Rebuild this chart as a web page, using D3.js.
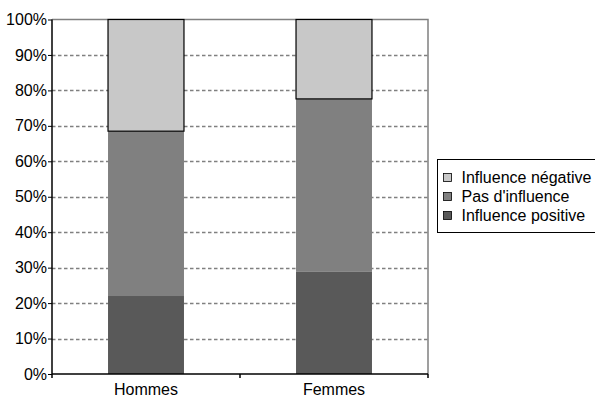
<!DOCTYPE html>
<html>
<head>
<meta charset="utf-8">
<script src="https://cdn.jsdelivr.net/npm/d3@7"></script>
<style>
  html, body { margin: 0; padding: 0; background: #fff; }
  svg { display: block; font-family: "Liberation Sans", Arial, sans-serif; }
</style>
</head>
<body>
<svg id="chart" width="595" height="396"></svg>
<script>
// Categories and stacked shares (percent)
const categories = ["Hommes", "Femmes"];
const seriesNames = ["Influence positive", "Pas d'influence", "Influence négative"];
const positive = [22.0, 28.8];
const neutral = [46.5, 48.8];
const negative = [31.5, 22.4];
const yTicks = [0, 10, 20, 30, 40, 50, 60, 70, 80, 90, 100];

const colors = {
  "Influence positive": "#595959",
  "Pas d'influence": "#808080",
  "Influence négative": "#c8c8c8"
};

const rows = categories.map((c, i) => ({
  cat: c,
  "Influence positive": positive[i],
  "Pas d'influence": neutral[i],
  "Influence négative": negative[i]
}));

const FONT = "Liberation Sans, Arial, sans-serif";
const FS = 16;

const svg = d3.select("#chart");
const m = { left: 52, right: 428, top: 19.5, bottom: 374 };

const x = d3.scaleBand().domain(categories).range([m.left, m.right]).paddingInner(0.596).paddingOuter(0.298);
const y = d3.scaleLinear().domain([0, 100]).range([m.bottom, m.top]);

// Dashed gridlines
svg.append("g").selectAll("line")
  .data(yTicks.filter(t => t > 0 && t < 100))
  .join("line")
  .attr("x1", m.left).attr("x2", m.right)
  .attr("y1", d => Math.round(y(d)) + 0.5).attr("y2", d => Math.round(y(d)) + 0.5)
  .attr("stroke", "#808080").attr("stroke-width", 1.3)
  .attr("stroke-dasharray", "3.5,2.5");

// Plot frame top and right (grey)
svg.append("path")
  .attr("d", `M${m.left},${m.top}H${m.right}V${m.bottom}`)
  .attr("fill", "none").attr("stroke", "#808080").attr("stroke-width", 1.5);

// Stacked bars
const stack = d3.stack().keys(seriesNames)(rows);
const layers = svg.append("g").selectAll("g").data(stack).join("g")
  .attr("fill", d => colors[d.key]);
layers.selectAll("rect")
  .data(d => d.map(v => ({ key: d.key, v })))
  .join("rect")
  .attr("x", d => x(d.v.data.cat))
  .attr("width", x.bandwidth())
  .attr("y", d => y(d.v[1]))
  .attr("height", d => y(d.v[0]) - y(d.v[1]))
  .attr("stroke", d => d.key === "Influence négative" ? "#000" : "none")
  .attr("stroke-width", 1.2);

// Left axis
const yAxis = d3.axisLeft(y).tickValues(yTicks).tickFormat(d => d + "%").tickSize(4).tickPadding(1);
const gy = svg.append("g").attr("transform", `translate(${m.left},0)`).call(yAxis)
  .attr("font-size", FS).attr("font-family", FONT);
gy.select(".domain").attr("stroke", "#000").attr("stroke-width", 1.5).attr("d", `M0,${m.top}V${m.bottom}`);
gy.selectAll(".tick line").attr("stroke", "#000");
gy.selectAll(".tick text").attr("fill", "#000");

// Bottom axis
svg.append("line")
  .attr("x1", m.left).attr("x2", m.right)
  .attr("y1", m.bottom).attr("y2", m.bottom)
  .attr("stroke", "#000").attr("stroke-width", 1.5);
const sep = [m.left, (m.left + m.right) / 2, m.right];
svg.append("g").selectAll("line").data(sep).join("line")
  .attr("x1", d => d).attr("x2", d => d)
  .attr("y1", m.bottom).attr("y2", m.bottom + 4)
  .attr("stroke", "#000").attr("stroke-width", 1.5);
svg.append("g").selectAll("text").data(categories).join("text")
  .attr("x", d => x(d) + x.bandwidth() / 2)
  .attr("y", 394.5)
  .attr("text-anchor", "middle")
  .attr("font-size", FS)
  .text(d => d);

// Legend
const legend = svg.append("g");
legend.append("rect")
  .attr("x", 437.5).attr("y", 159.5).attr("width", 170).attr("height", 73)
  .attr("fill", "#fff").attr("stroke", "#000").attr("stroke-width", 1);
const legendItems = ["Influence négative", "Pas d'influence", "Influence positive"];
const li = legend.selectAll("g.item").data(legendItems).join("g")
  .attr("transform", (d, i) => `translate(443.5, ${173.5 + i * 19})`);
li.append("rect")
  .attr("width", 8).attr("height", 8)
  .attr("fill", d => colors[d]).attr("stroke", "#000").attr("stroke-width", 0.8);
li.append("text")
  .attr("x", 18).attr("y", 9.5)
  .attr("font-size", FS)
  .text(d => d);
</script>
</body>
</html>
